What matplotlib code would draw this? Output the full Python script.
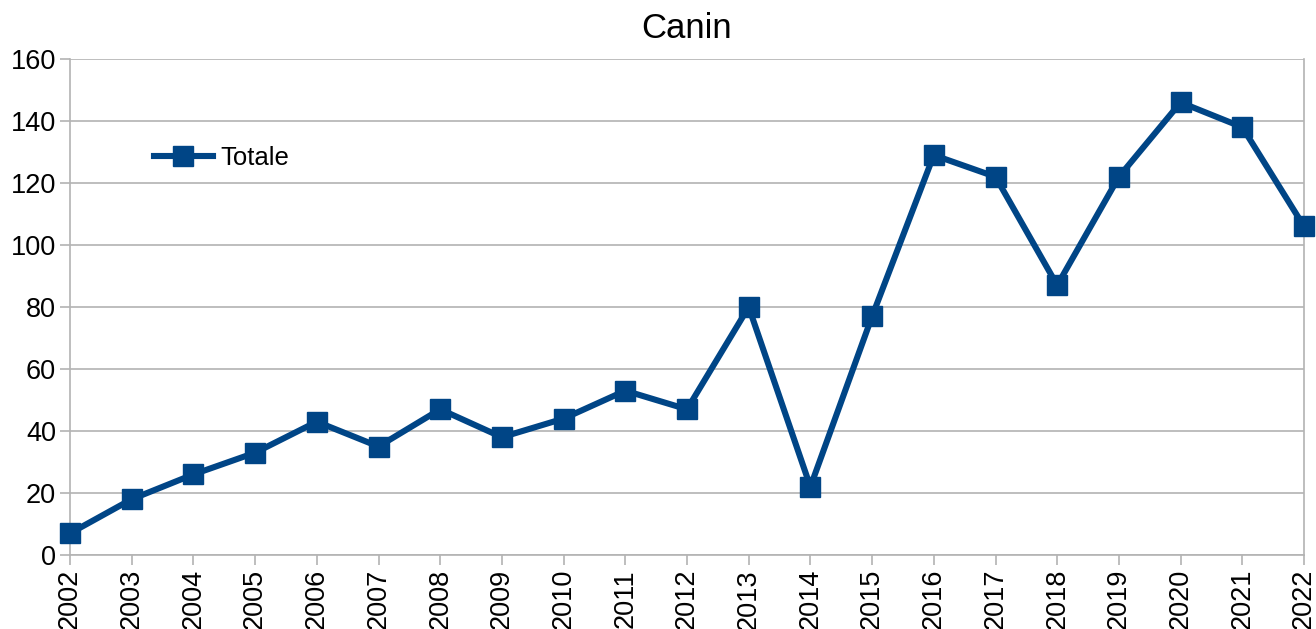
import matplotlib.pyplot as plt

years = [str(y) for y in range(2002, 2023)]
totale = [7, 18, 26, 33, 43, 35, 47, 38, 44, 53, 47, 80, 22, 77, 129, 122, 87, 122, 146, 138, 106]

plt.rcParams["font.family"] = ["Liberation Sans", "DejaVu Sans"]

fig = plt.figure(figsize=(13.16, 6.29), dpi=100)
ax = fig.add_axes([70 / 1316, 1 - 555 / 629, 1234 / 1316, 496 / 629])

x = list(range(len(years)))
line, = ax.plot(x, totale, color="#004586", linewidth=4.4, marker="s",
                markersize=14, label="Totale", clip_on=False, zorder=3)

ax.set_xlim(0, len(years) - 1)
ax.set_ylim(0, 160)
ax.set_yticks(range(0, 161, 20))
ax.set_xticks(x)
ax.set_xticklabels(years, rotation=90)
ax.tick_params(axis="both", labelsize=19.5, color="#b3b3b3", length=7, width=1.2, pad=3)
ax.grid(axis="y", color="#b3b3b3", linewidth=1.2)
ax.set_axisbelow(True)
for s in ax.spines.values():
    s.set_color("#b3b3b3")
    s.set_linewidth(1.2)
ax.spines["top"].set_visible(False)

ax.set_title("Canin", fontsize=25, pad=15)

ax.legend(handles=[line], loc="center left", bbox_to_anchor=(0.049, 0.80),
          frameon=False, fontsize=18.5, handlelength=2.3, handletextpad=0.3)

fig.savefig("out.png", dpi=100)
